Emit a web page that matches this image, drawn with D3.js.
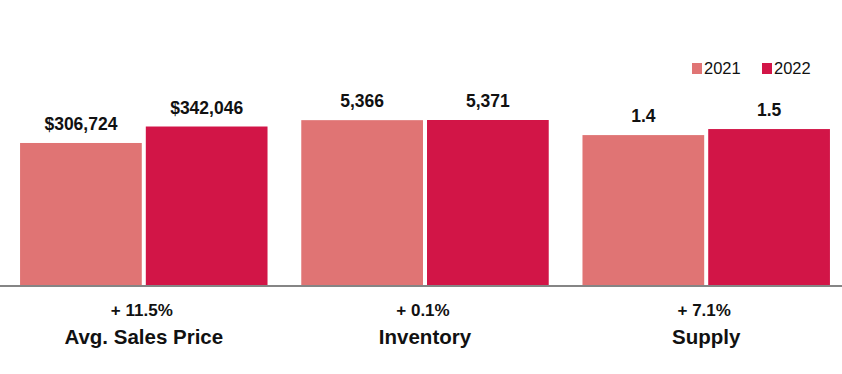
<!DOCTYPE html>
<html>
<head>
<meta charset="utf-8">
<script src="https://cdn.jsdelivr.net/npm/d3@7"></script>
<style>
  body { margin: 0; background: #fff; }
  svg { display: block; font-family: "Liberation Sans", Arial, Helvetica, sans-serif; }
</style>
</head>
<body>
<svg id="chart" width="842" height="374"></svg>
<script>
// data
var categories = ["Avg. Sales Price", "Inventory", "Supply"];
var years = ["2021", "2022"];
var values2021 = [306724, 5366, 1.4];
var values2022 = [342046, 5371, 1.5];
var valueLabels2021 = ["$306,724", "5,366", "1.4"];
var valueLabels2022 = ["$342,046", "5,371", "1.5"];
var changeLabels = ["+ 11.5%", "+ 0.1%", "+ 7.1%"];
// each metric has its own value axis
var axisMin = [0, 0, -1.1];
var axisMax = [356000, 5371, 1.65];

var colors = ["#e07474", "#d21547"];

var width = 842;
var height = 374;
var baseline = 286;
var plotTop = 120;

var svg = d3.select('#chart');

var x0 = d3.scaleBand()
    .domain(categories)
    .range([6, 844])
    .paddingInner(0.12)
    .paddingOuter(0.05);

var x1 = d3.scaleBand()
    .domain(years)
    .range([0, x0.bandwidth()])
    .paddingInner(0.032);

var color = d3.scaleOrdinal().domain(years).range(colors);

var yScales = categories.map(function (c, i) {
    return d3.scaleLinear()
        .domain([axisMin[i], axisMax[i]])
        .range([baseline, plotTop]);
});

var rows = categories.map(function (c, i) {
    return {
        category: c,
        index: i,
        change: changeLabels[i],
        bars: [
            {year: "2021", value: values2021[i], label: valueLabels2021[i], index: i},
            {year: "2022", value: values2022[i], label: valueLabels2022[i], index: i}
        ]
    };
});

var groups = svg.selectAll("g.group")
    .data(rows)
    .enter()
    .append("g")
    .attr("class", "group")
    .attr("transform", function (d) { return 'translate(' + x0(d.category) + ',0)'; });

groups.selectAll("rect")
    .data(function (d) { return d.bars; })
    .enter()
    .append("rect")
    .attr("x", function (d) { return x1(d.year); })
    .attr("y", function (d) { return yScales[d.index](d.value); })
    .attr("width", x1.bandwidth())
    .attr("height", function (d) { return baseline - yScales[d.index](d.value); })
    .attr("fill", function (d) { return color(d.year); });

groups.selectAll("text.value")
    .data(function (d) { return d.bars; })
    .enter()
    .append("text")
    .attr("class", "value")
    .attr("x", function (d) { return x1(d.year) + x1.bandwidth() / 2; })
    .attr("y", function (d) { return yScales[d.index](d.value) - 13; })
    .attr("text-anchor", "middle")
    .attr("font-size", "17.5px")
    .attr("font-weight", "bold")
    .attr("fill", "#111")
    .text(function (d) { return d.label; });

groups.append("text")
    .attr("x", x0.bandwidth() / 2 - 2)
    .attr("y", 316)
    .attr("text-anchor", "middle")
    .attr("font-size", "17px")
    .attr("font-weight", "bold")
    .attr("fill", "#111")
    .text(function (d) { return d.change; });

groups.append("text")
    .attr("x", x0.bandwidth() / 2)
    .attr("y", 344)
    .attr("text-anchor", "middle")
    .attr("font-size", "20.5px")
    .attr("font-weight", "bold")
    .attr("fill", "#111")
    .text(function (d) { return d.category; });

// baseline
svg.append("line")
    .attr("x1", 0)
    .attr("x2", width)
    .attr("y1", baseline)
    .attr("y2", baseline)
    .attr("stroke", "#858585")
    .attr("stroke-width", 2);

// legend
var legend = svg.selectAll("g.legend")
    .data(years)
    .enter()
    .append("g")
    .attr("class", "legend")
    .attr("transform", function (d, i) { return 'translate(' + (692 + i * 70) + ',63)'; });

legend.append("rect")
    .attr("width", 10)
    .attr("height", 11)
    .attr("fill", function (d) { return color(d); });

legend.append("text")
    .attr("x", 12)
    .attr("y", 11)
    .attr("font-size", "16.5px")
    .attr("fill", "#111")
    .text(function (d) { return d; });
</script>
</body>
</html>
